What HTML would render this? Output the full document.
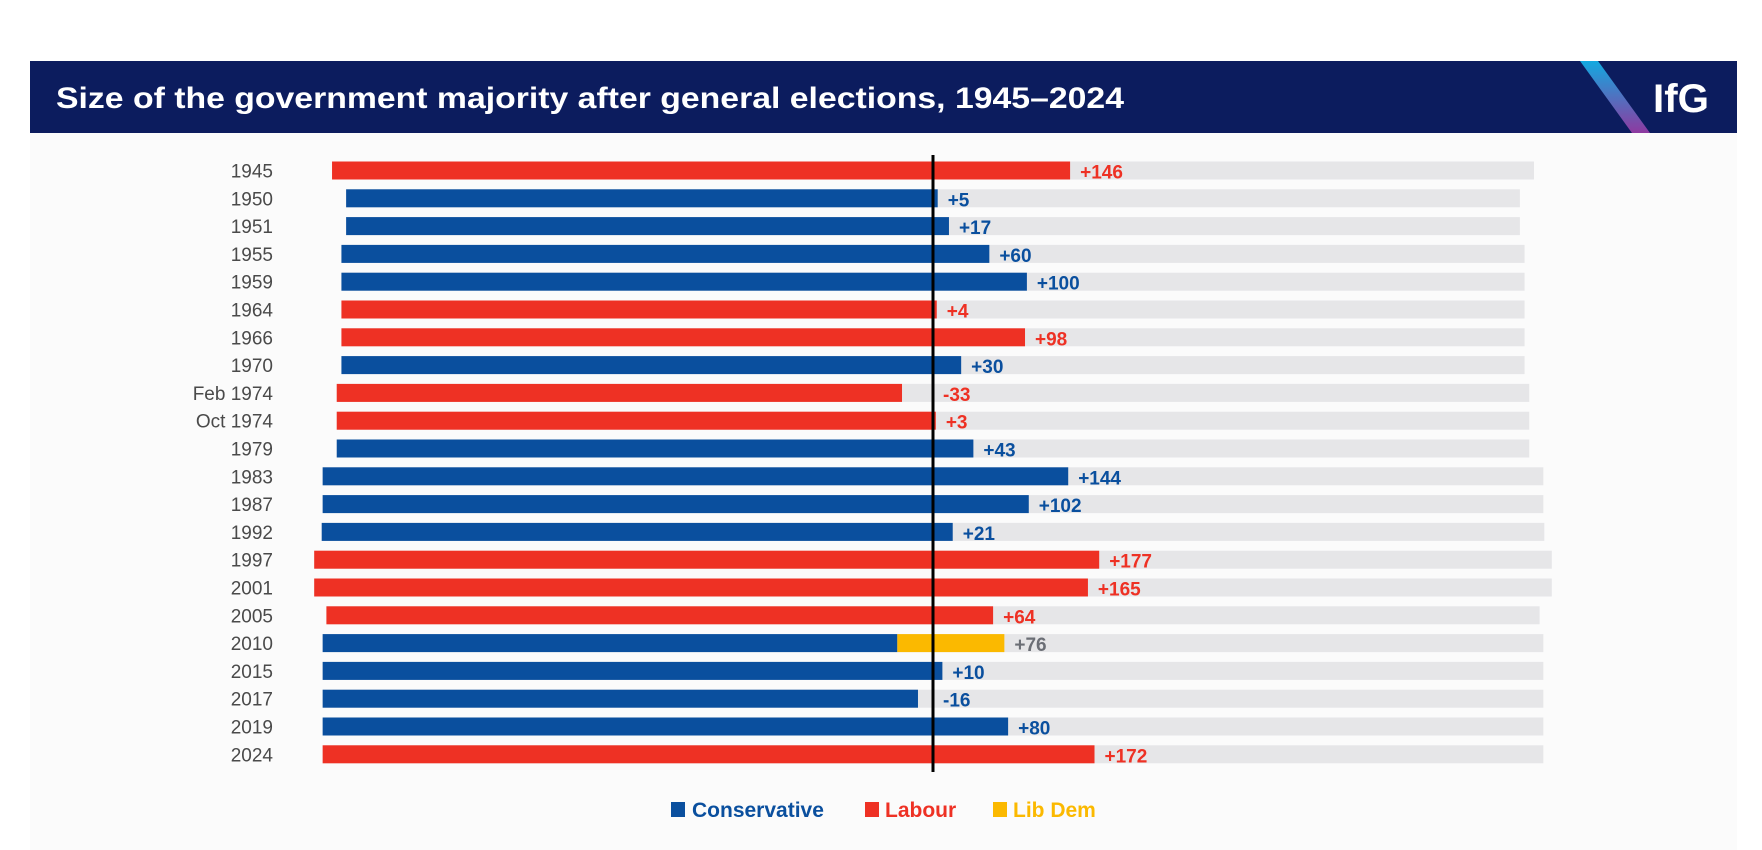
<!DOCTYPE html>
<html><head><meta charset="utf-8"><style>
html,body{margin:0;padding:0;background:#fff}
svg{display:block;font-family:"Liberation Sans",sans-serif}
</style></head><body>
<svg id="chart" width="1762" height="850" viewBox="0 0 1762 850">
<defs><linearGradient id="sl" x1="0" y1="0" x2="0" y2="1"><stop offset="0" stop-color="#12a9e0"/><stop offset="1" stop-color="#8e3aa0"/></linearGradient></defs>
<rect x="30" y="133" width="1707" height="717" fill="#fbfbfb"/>
<g>
<rect x="30" y="61" width="1707" height="72" fill="#0c1c5e"/>
<polygon points="1580,61 1598,61 1650,133 1632,133" fill="url(#sl)"/>
<text x="56" y="108" fill="#fff" font-size="30" font-weight="bold" textLength="1068" lengthAdjust="spacingAndGlyphs">Size of the government majority after general elections, 1945–2024</text>
<text x="1653" y="112" fill="#fff" font-size="40" font-weight="bold" textLength="56" lengthAdjust="spacingAndGlyphs">IfG</text>
</g>
<g id="bars"></g>
<g font-size="21" font-weight="bold">
<rect x="671" y="802" width="14" height="15" fill="#0a4f9e"/>
<text x="692" y="817" fill="#0a4f9e">Conservative</text>
<rect x="865" y="802" width="14" height="15" fill="#ee3124"/>
<text x="885" y="817" fill="#ee3124">Labour</text>
<rect x="993" y="802" width="14" height="15" fill="#fbb900"/>
<text x="1013" y="817" fill="#fbb900">Lib Dem</text>
</g>
</svg>
<script>
const years=["1945","1950","1951","1955","1959","1964","1966","1970","Feb 1974","Oct 1974","1979","1983","1987","1992","1997","2001","2005","2010","2015","2017","2019","2024"];
const parties=["lab","con","con","con","con","lab","lab","con","lab","lab","con","con","con","con","lab","lab","lab","con","con","con","con","lab"];
const majorities=[146,5,17,60,100,4,98,30,-33,3,43,144,102,21,177,165,64,-38,10,-16,80,172];
const coalitionMajority=[null,null,null,null,null,null,null,null,null,null,null,null,null,null,null,null,null,76,null,null,null,null];
const seats=[640,625,625,630,630,630,630,630,635,635,635,650,650,651,659,659,646,650,650,650,650,650];
const colors={con:"#0a4f9e",lab:"#ee3124",ld:"#fbb900"};
const cx=933,k=0.939,y0=170.5,pitch=27.8,bh=18;
const xs=v=>cx+v*k, ys=i=>y0+i*pitch;
const NS="http://www.w3.org/2000/svg",g=document.getElementById("bars");
function mk(t,a){const e=document.createElementNS(NS,t);for(const p in a)e.setAttribute(p,a[p]);g.appendChild(e);return e;}
years.forEach((yr,i)=>{
  const y=ys(i);
  const bg=mk("rect",{x:xs(-seats[i]),y:y-bh/2,width:2*seats[i]*k,height:bh,fill:"#e6e6e8"});
  
  
  const b=mk("rect",{x:xs(-seats[i]),y:y-bh/2,width:(seats[i]+majorities[i])*k,height:bh,fill:colors[parties[i]]});
  
  
  let end=majorities[i],col=colors[parties[i]],val=majorities[i];
  if(coalitionMajority[i]!=null){
    const c=mk("rect",{x:xs(majorities[i]),y:y-bh/2,width:(coalitionMajority[i]-majorities[i])*k,height:bh,fill:colors.ld});
    
    
    end=coalitionMajority[i];val=coalitionMajority[i];col="#6b6e75";
  }
  const lab=mk("text",{x:273,y:y+7,"text-anchor":"end","font-size":19,fill:"#4a4a4a"});
  lab.textContent=yr;
  
  
  const vx=Math.max(xs(end),cx)+10;
  const v=mk("text",{x:vx,y:y+8,"font-size":19,"font-weight":"bold",fill:col});
  v.textContent=(val>0?"+":"")+val;
  
  
});
const zl=mk("line",{x1:cx,x2:cx,y1:155,y2:772,stroke:"#000","stroke-width":3});


</script>
</body></html>
